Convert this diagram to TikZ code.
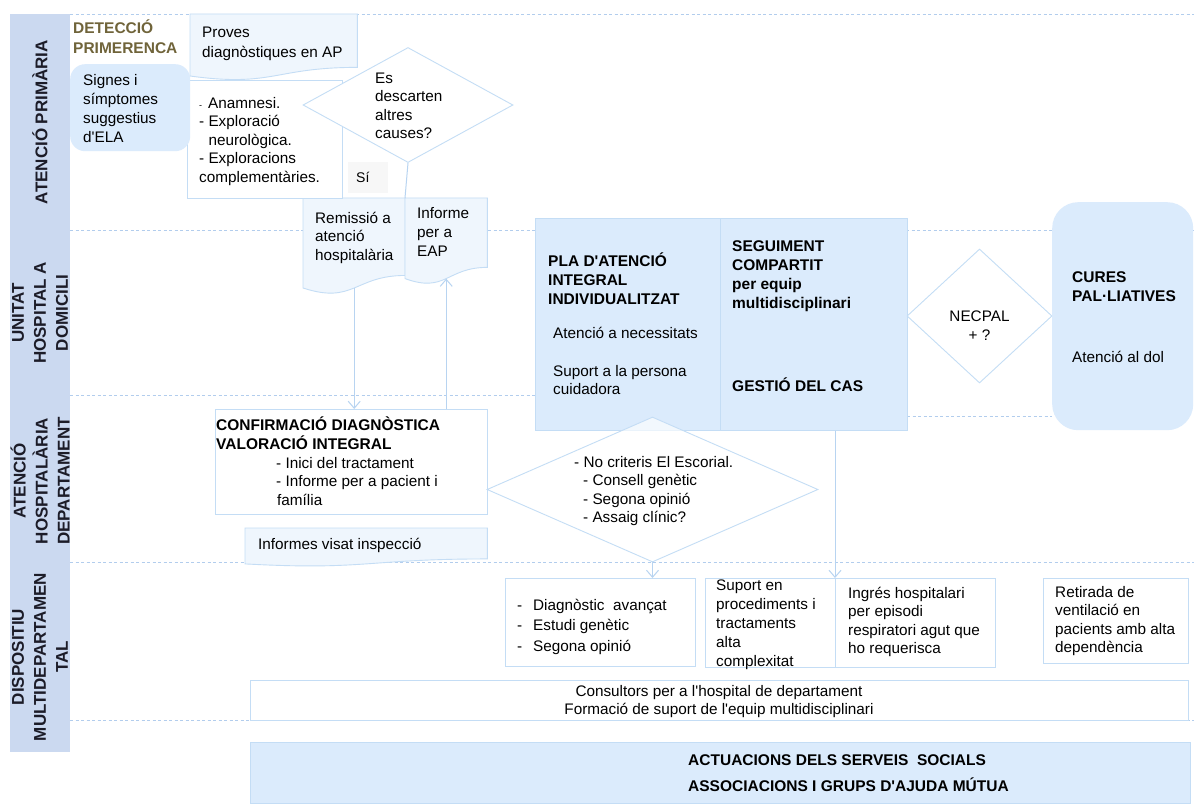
\documentclass[tikz,border=0pt]{standalone}
\usepackage{fontspec}
\setmainfont{Liberation Sans}[Ligatures=TeXOff]
\usetikzlibrary{shapes.geometric,arrows.meta,backgrounds}

\definecolor{lanebar}{RGB}{203,217,240}
\definecolor{boxblue}{RGB}{219,235,252}
\definecolor{paleblue}{RGB}{239,246,253}
\definecolor{edgeblue}{RGB}{196,221,245}
\definecolor{sepblue}{RGB}{178,205,237}
\definecolor{flowblue}{RGB}{184,212,241}
\definecolor{olivetext}{RGB}{112,100,58}
\definecolor{lanetext}{RGB}{28,28,40}
\definecolor{notegray}{RGB}{247,247,247}

% invisible strut: the top of every label sits 16pt above its first baseline
\newcommand\firstline{\rule{0pt}{16pt}}
% flowchart "document" outline around a named node: node, width, height
\newcommand\drawdocshape[3]{%
  \path[docshape] (#1.north west) -- (#1.north east)
    -- ([yshift={0.14*#3}]#1.south east)
    .. controls +({-0.5*#2},0) and +({0.5*#2},{0.186*#3}) .. (#1.south west) -- cycle;}

\begin{document}
\begin{tikzpicture}[x=1pt,y=-1pt,
  lbl/.style={inner sep=0pt,anchor=north west,align=left,font=\fontsize{15.3}{#1}\selectfont},
  lbl/.default=18.5,
  lblb/.style={lbl,font=\fontsize{15.5}{#1}\selectfont\bfseries},
  lblb/.default=19,
  lanelbl/.style={rotate=90,align=center,inner sep=0pt,text=lanetext,font=\fontsize{17}{22}\selectfont\bfseries},
  panel/.style={draw=edgeblue,line width=0.9pt,anchor=north west,inner sep=0pt},
  docshape/.style={draw=edgeblue,line width=0.9pt,fill=paleblue},
  docnode/.style={anchor=north west,inner sep=0pt},
  decision/.style={diamond,draw=edgeblue,line width=0.9pt,fill=white,inner sep=0pt},
  lanesep/.style={draw=sepblue,line width=0.8pt,dash pattern=on 3pt off 2.5pt},
  flow/.style={draw=flowblue,line width=1pt,-{Straight Barb[length=7pt,width=12pt]}},
  link/.style={draw=flowblue,line width=1pt},
]
\useasboundingbox (0,0) rectangle (1194,805);

% page and swimlane separators
\begin{scope}[on background layer]
  \fill[white] (0,0) rectangle (1194,805);
  \draw[lanesep] (70,14) -- (1194,14);
  \draw[lanesep] (70,230) -- (1194,230);
  \draw[lanesep] (70,395) -- (535,395);
  \draw[lanesep] (907,416) -- (1052,416);
  \draw[lanesep] (70,562) -- (1194,562);
  \draw[lanesep] (70,720) -- (1194,720);
\end{scope}

% lane headers
\node[fill=lanebar,anchor=north west,inner sep=0pt,minimum width=60pt,minimum height=738pt] (bar) at (10,14) {};
\node[lanelbl] (laneAP) at (40,122) {ATENCIÓ PRIMÀRIA};
\node[lanelbl] (laneUHD) at (40,313) {UNITAT\\HOSPITAL A\\DOMICILI};
\node[lanelbl] (laneAHD) at (40,481) {ATENCIÓ\\HOSPITALÀRIA\\DEPARTAMENT};
\node[lanelbl] (laneDM) at (40,657) {DISPOSITIU\\MULTIDEPARTAMEN\\TAL};

% primary care
\node[lblb=20,text=olivetext] (early) at (73,17.5) {\firstline DETECCIÓ\\PRIMERENCA};
\node[docnode,minimum width=167pt,minimum height=61.6pt] (proves) at (190,14) {};
\node[lbl=20] (provesT) at (202,21) {\firstline Proves\\diagnòstiques en AP};
\node[panel,fill=white,minimum width=155pt,minimum height=118pt] (anam) at (187,80) {};
\node[fill=boxblue,rounded corners=15pt,anchor=north west,inner sep=0pt,minimum width=120pt,minimum height=87pt] (signs) at (70,64) {};
\node[lbl=19] (signsT) at (83,69) {\firstline Signes i\\símptomes\\suggestius\\d'ELA};
\node[lbl] (anamT) at (199,92) {\firstline{\fontsize{9}{9}\selectfont -}\hspace{6pt}Anamnesi.\\- Exploració\\\phantom{-}\ neurològica.\\- Exploracions\\complementàries.};
\node[decision,minimum width=210pt,minimum height=115pt] (d1) at (408,105) {};
\node[lbl] (d1T) at (375,67) {\firstline Es\\descarten\\altres\\causes?};
\node[fill=notegray,anchor=north west,inner sep=0pt,minimum width=40pt,minimum height=31pt,
      font=\fontsize{14}{14}\selectfont,align=left,text width=24pt] (yes) at (348,162) {Sí};
\node[docnode,minimum width=102pt,minimum height=89.6pt] (refer) at (303,198) {};
\node[docnode,minimum width=82pt,minimum height=80.2pt] (report) at (405,198) {};
\node[lbl] (referT) at (315,207) {\firstline Remissió a\\atenció\\hospitalària};
\node[lbl=19] (reportT) at (417,202) {\firstline Informe\\per a\\EAP};

% home hospital unit
\node[panel,fill=boxblue,minimum width=185pt,minimum height=212pt] (plan) at (535,218) {};
\node[panel,fill=boxblue,minimum width=187pt,minimum height=212pt] (follow) at (720,218) {};
\node[lblb=18.7] (planT) at (548,250.5) {\firstline PLA D'ATENCIÓ\\INTEGRAL\\INDIVIDUALITZAT};
\node[lbl] (needsT) at (553,322) {\firstline Atenció a necessitats};
\node[lbl=18] (carerT) at (553,360) {\firstline Suport a la persona\\cuidadora};
\node[lblb=18.8] (followT) at (732,235.4) {\firstline SEGUIMENT\\COMPARTIT\\per equip\\multidisciplinari};
\node[lblb] (caseT) at (732,375.4) {\firstline GESTIÓ DEL CAS};
\node[decision,minimum width=145pt,minimum height=134pt] (necpal) at (979.5,316) {};
\node[lbl=19,anchor=north,align=center] (necpalT) at (979.5,305.4) {\firstline NECPAL\\+ ?};
\node[fill=boxblue,rounded corners=26pt,anchor=north west,inner sep=0pt,minimum width=141pt,minimum height=228pt] (palliative) at (1052,202) {};
\node[lblb] (palliativeT) at (1072,266.4) {\firstline CURES\\PAL·LIATIVES};
\node[lbl] (griefT) at (1072,346) {\firstline Atenció al dol};

% department hospital care
\node[panel,fill=white,minimum width=272pt,minimum height=105pt] (confirm) at (215,409) {};
\node[lblb] (confirmT) at (216,414.4) {\firstline CONFIRMACIÓ DIAGNÒSTICA\\VALORACIÓ INTEGRAL};
\node[lbl] (confirmL) at (276,452) {\firstline - Inici del tractament\\- Informe per a pacient i\\\hspace*{1pt}família};
\node[docnode,minimum width=242pt,minimum height=35.5pt] (visa) at (245,528) {};
\node[lbl] (visaT) at (258,533) {\firstline Informes visat inspecció};
\node[decision,fill opacity=0.65,minimum width=331pt,minimum height=145pt] (d2) at (652.5,489.5) {};
\node[lbl=18.4] (d2T) at (574,451) {\firstline - No criteris El Escorial.\\\hspace*{9pt}- Consell genètic\\\hspace*{9pt}- Segona opinió\\\hspace*{9pt}- Assaig clínic?};

% multi-department unit
\node[panel,fill=white,minimum width=190pt,minimum height=88pt] (adv) at (505,578) {};
\node[lbl=20.5] (advT) at (517,594) {\firstline\makebox[16pt][l]{-}Diagnòstic\ \ avançat\\\makebox[16pt][l]{-}Estudi genètic\\\makebox[16pt][l]{-}Segona opinió};
\node[panel,fill=white,minimum width=130pt,minimum height=89pt] (complex) at (705,578) {};
\node[lbl=19] (complexT) at (716,574) {\firstline Suport en\\procediments i\\tractaments\\alta\\complexitat};
\node[panel,fill=white,minimum width=160pt,minimum height=89pt] (admit) at (835,578) {};
\node[lbl] (admitT) at (848,582) {\firstline Ingrés hospitalari\\per episodi\\respiratori agut que\\ho requerisca};
\node[panel,fill=white,minimum width=145pt,minimum height=85pt] (wean) at (1043,578) {};
\node[lbl] (weanT) at (1055,581) {\firstline Retirada de\\ventilació en\\pacients amb alta\\dependència};
\node[panel,fill=white,minimum width=938pt,minimum height=40pt] (consult) at (250,680) {};
\node[lbl=18,anchor=north,align=center] (consultT) at (719,680) {\firstline Consultors per a l'hospital de departament\\Formació de suport de l'equip multidisciplinari};
\node[panel,fill=boxblue,minimum width=940pt,minimum height=61pt] (social) at (250,742) {};
\node[lblb=26] (socialT) at (688,749.4) {\firstline ACTUACIONS DELS SERVEIS\ \ SOCIALS\\ASSOCIACIONS I GRUPS D'AJUDA MÚTUA};

% document outlines behind their labels
\begin{scope}[on background layer]
  \drawdocshape{proves}{167}{61.6}
  \drawdocshape{refer}{102}{89.6}
  \drawdocshape{report}{82}{80.2}
  \drawdocshape{visa}{242}{35.5}
\end{scope}

% connectors
\draw[link] (d1.south) -- (report.north west);
\draw[flow] (refer.south) -- (refer.south |- confirm.north);
\draw[flow] (confirm.north -| report.south) -- (report.south);
\draw[flow] (d2.south) -- (d2.south |- adv.north);
\draw[flow] (admit.north west |- follow.south) -- (admit.north west);
\end{tikzpicture}
\end{document}
